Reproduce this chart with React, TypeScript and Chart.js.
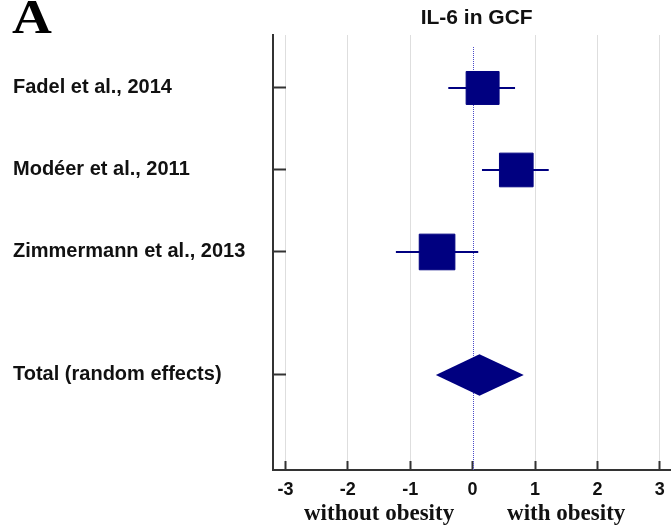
import React, { useEffect, useRef } from "react";
import { Chart, registerables } from "chart.js";

Chart.register(...registerables);

// Individual studies (standardised mean difference with 95% CI)
const studies = ["Fadel et al., 2014", "Modéer et al., 2011", "Zimmermann et al., 2013"];
const studyRows = [1, 2, 3];
const effectSizes = [0.16, 0.7, -0.57];
const lowerCI = [-0.39, 0.15, -1.23];
const upperCI = [0.68, 1.22, 0.09];
const boxRadius = [23.3, 23.8, 25.2];

// Pooled estimate
const totalLabel = "Total (random effects)";
const totalRow = 4.5;
const totalEffect = 0.11;
const totalLower = -0.59;
const totalUpper = 0.82;

const xTicks = [-3, -2, -1, 0, 1, 2, 3];
const sideLabels = ["without obesity", "with obesity"];
const sideLabelAt = [-1.5, 1.5];

const panelLetter = "A";
const chartTitle = "IL-6 in GCF";

const NAVY = "#000080";
const SANS = '"Liberation Sans", Arial, sans-serif';
const SERIF = '"Liberation Serif", "Times New Roman", serif';

const rowValues = [...studyRows, totalRow];
const rowLabels = [...studies, totalLabel];

const forestPlugin = {
  id: "forestExtras",
  beforeDatasetsDraw(chart: any) {
    const { ctx, chartArea, scales } = chart;
    const x0 = Math.round(scales.x.getPixelForValue(0)) + 0.5;
    ctx.save();
    ctx.strokeStyle = "#4a4ac8";
    ctx.lineWidth = 1;
    ctx.setLineDash([1, 1]);
    ctx.beginPath();
    ctx.moveTo(x0, chartArea.top + 12);
    ctx.lineTo(x0, chartArea.bottom);
    ctx.stroke();
    ctx.restore();
  },
  afterDatasetsDraw(chart: any) {
    const { ctx, scales } = chart;
    const cy = scales.y.getPixelForValue(totalRow);
    const half = 20.7;
    ctx.save();
    ctx.fillStyle = NAVY;
    ctx.beginPath();
    ctx.moveTo(scales.x.getPixelForValue(totalLower), cy);
    ctx.lineTo(scales.x.getPixelForValue(totalEffect), cy - half);
    ctx.lineTo(scales.x.getPixelForValue(totalUpper), cy);
    ctx.lineTo(scales.x.getPixelForValue(totalEffect), cy + half);
    ctx.closePath();
    ctx.fill();
    ctx.restore();
  },
  afterDraw(chart: any) {
    const { ctx, scales } = chart;
    ctx.save();
    ctx.fillStyle = "#111";
    // Title over the plotting area
    ctx.font = `bold 21px ${SANS}`;
    ctx.textAlign = "center";
    ctx.textBaseline = "alphabetic";
    ctx.fillText(chartTitle, scales.x.getPixelForValue(0) + 4, 23.5);

    // Direction labels under the axis
    ctx.font = `bold 23px ${SERIF}`;
    sideLabels.forEach((t, i) => {
      ctx.fillText(t, scales.x.getPixelForValue(sideLabelAt[i]), 520);
    });

    // Panel letter
    ctx.save();
    ctx.translate(12, 33);
    ctx.scale(1.15, 1);
    ctx.font = `bold 48px ${SERIF}`;
    ctx.textAlign = "left";
    ctx.fillStyle = "#000";
    ctx.fillText(panelLetter, 0, 0);
    ctx.restore();
    ctx.restore();
  },
};

export default function App() {
  const canvasRef = useRef<HTMLCanvasElement | null>(null);

  useEffect(() => {
    if (!canvasRef.current) return;
    const boxes = {
      type: "scatter" as const,
      data: studies.map((_, i) => ({ x: effectSizes[i], y: studyRows[i] })),
      pointStyle: "rect",
      pointRadius: boxRadius,
      pointHoverRadius: boxRadius,
      backgroundColor: NAVY,
      borderColor: NAVY,
      borderWidth: 1,
    };
    const whiskers = studies.map((_, i) => ({
      type: "scatter" as const,
      data: [
        { x: lowerCI[i], y: studyRows[i] },
        { x: upperCI[i], y: studyRows[i] },
      ],
      showLine: true,
      borderColor: NAVY,
      borderWidth: 2,
      pointRadius: 0,
      pointHoverRadius: 0,
    }));

    const chart = new Chart(canvasRef.current, {
      type: "scatter",
      data: { datasets: [boxes, ...whiskers] as any },
      options: {
        animation: false,
        responsive: false,
        devicePixelRatio: 1,
        layout: { autoPadding: false, padding: { left: 13, top: 35, right: 0, bottom: 0 } },
        plugins: {
          legend: { display: false },
          tooltip: { enabled: false },
          title: { display: false },
        },
        scales: {
          x: {
            type: "linear",
            min: -3.2,
            max: 3.18,
            afterBuildTicks: (s: any) => {
              s.ticks = xTicks.map((v) => ({ value: v }));
            },
            afterFit: (s: any) => {
              s.height = 58;
              s.paddingLeft = 0;
              s.paddingRight = 0;
            },
            ticks: {
              autoSkip: false,
              maxRotation: 0,
              padding: 18,
              color: "#111",
              font: { family: SANS, size: 18, weight: "bold" },
              callback: (v: any) => String(v),
            },
            grid: {
              color: (c: any) => (c.tick && c.tick.value === 0 ? "rgba(0,0,0,0)" : "#dedede"),
              lineWidth: 1,
              tickLength: -9,
              tickColor: "#333",
              tickWidth: 2,
            },
            border: { color: "#333", width: 2 },
          },
          y: {
            type: "linear",
            reverse: true,
            min: 0.354,
            max: 5.659,
            afterBuildTicks: (s: any) => {
              s.ticks = rowValues.map((v) => ({ value: v }));
            },
            afterFit: (s: any) => {
              s.width = 260;
              s.paddingTop = 0;
              s.paddingBottom = 0;
            },
            ticks: {
              autoSkip: false,
              crossAlign: "far",
              padding: 0,
              color: "#111",
              font: { family: SANS, size: 20, weight: "bold" },
              callback: (v: any) => {
                const idx = rowValues.indexOf(Number(v));
                return idx >= 0 ? rowLabels[idx] : "";
              },
            },
            grid: {
              drawOnChartArea: false,
              tickLength: -13,
              tickColor: "#333",
              tickWidth: 2,
            },
            border: { color: "#333", width: 2 },
          },
        },
      } as any,
      plugins: [forestPlugin],
    });
    return () => chart.destroy();
  }, []);

  return (
    <div
      style={{
        position: "fixed",
        left: 0,
        top: 0,
        width: 671,
        height: 528,
        background: "#fff",
        overflow: "hidden",
      }}
    >
      <canvas ref={canvasRef} width={671} height={528} />
    </div>
  );
}
